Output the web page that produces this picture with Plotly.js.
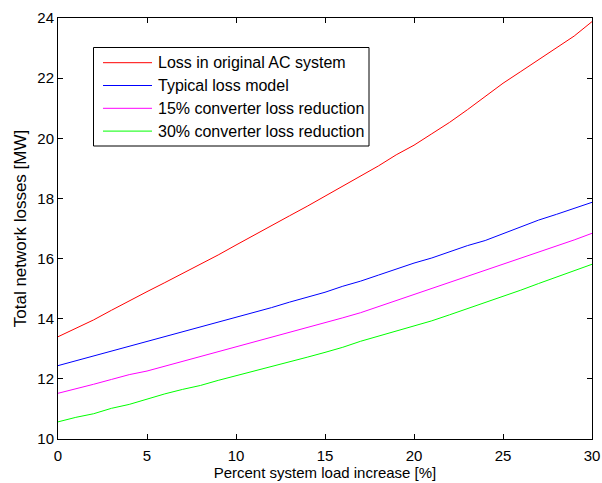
<!DOCTYPE html>
<html>
<head>
<meta charset="utf-8">
<script src="https://cdn.plot.ly/plotly-3.0.1.min.js"></script>
<style>html,body{margin:0;padding:0;background:#fff;}#chart{width:602px;height:483px;}</style>
</head>
<body>
<div id="chart"></div>
<script>
const loadIncrease = [0,1,2,3,4,5,6,7,8,9,10,11,12,13,14,15,16,17,18,19,20,21,22,23,24,25,26,27,28,29,30];
const lossOriginalAC = [13.40,13.68,13.96,14.28,14.60,14.90,15.20,15.50,15.80,16.12,16.45,16.78,17.10,17.42,17.74,18.07,18.40,18.75,19.08,19.45,19.77,20.15,20.53,20.95,21.40,21.83,22.22,22.62,23.00,23.40,23.88];
const typicalLossModel = [12.44,12.60,12.76,12.92,13.08,13.24,13.40,13.56,13.72,13.88,14.04,14.20,14.37,14.55,14.72,14.88,15.08,15.25,15.45,15.65,15.85,16.02,16.22,16.43,16.60,16.83,17.05,17.28,17.47,17.67,17.87];
const reduction15 = [11.52,11.66,11.82,11.98,12.14,12.26,12.42,12.58,12.74,12.90,13.07,13.22,13.38,13.53,13.70,13.87,14.03,14.20,14.40,14.60,14.80,15.00,15.22,15.40,15.60,15.80,16.00,16.20,16.42,16.62,16.84];
const reduction30 = [10.57,10.72,10.84,11.02,11.15,11.33,11.50,11.65,11.78,11.95,12.10,12.25,12.42,12.57,12.72,12.88,13.05,13.25,13.42,13.58,13.75,13.93,14.13,14.33,14.53,14.73,14.95,15.17,15.38,15.60,15.81];
const seriesNames = ["Loss in original AC system","Typical loss model","15% converter loss reduction","30% converter loss reduction"];
const seriesColors = ["#ff0000","#0000ff","#ff00ff","#00ff00"];
const seriesData = [lossOriginalAC, typicalLossModel, reduction15, reduction30];

const FAMILY = 'Liberation Sans, Arial, Helvetica, sans-serif';
const traces = seriesData.map((ys, i) => ({
  x: loadIncrease, y: ys, type: 'scatter', mode: 'lines',
  name: seriesNames[i], showlegend: false,
  line: {color: seriesColors[i], width: 1}
}));

// Plot area in pixels (for converting the MATLAB-style legend box position)
const W = 602, H = 483, ML = 58, MR = 10, MT = 18, MB = 44;
const pw = W - ML - MR, ph = H - MT - MB;
const px2x = p => (p - ML) / pw;
const px2y = p => (H - MB - p) / ph;

const shapes = [{
  type: 'rect', xref: 'paper', yref: 'paper',
  x0: px2x(93.5), x1: px2x(369), y0: px2y(146), y1: px2y(47.5),
  line: {color: '#000', width: 1}, fillcolor: '#fff', layer: 'above'
}];
const annotations = [];
const rowTop = 62.7, rowStep = 22.8;
seriesNames.forEach((name, i) => {
  const yy = px2y(rowTop + i * rowStep);
  shapes.push({type: 'line', xref: 'paper', yref: 'paper',
    x0: px2x(103), x1: px2x(152), y0: yy, y1: yy,
    line: {color: seriesColors[i], width: 1}, layer: 'above'});
  annotations.push({xref: 'paper', yref: 'paper', x: px2x(157), y: yy,
    xanchor: 'left', yanchor: 'middle', text: name, showarrow: false,
    borderpad: 0, font: {family: FAMILY, size: 16, color: '#000'}});
});

const tickFont = {family: FAMILY, size: 15, color: '#000'};
const layout = {
  width: W, height: H,
  margin: {l: ML, r: MR, t: MT, b: MB},
  paper_bgcolor: '#fff', plot_bgcolor: '#fff',
  font: tickFont,
  showlegend: false,
  shapes: shapes,
  annotations: annotations,
  xaxis: {
    range: [0, 30], dtick: 5, tick0: 0,
    ticks: 'inside', ticklen: 5, tickcolor: '#000',
    showline: true, linecolor: '#000', linewidth: 1, mirror: 'ticks',
    showgrid: false, zeroline: false,
    tickfont: tickFont, ticklabelstandoff: 3,
    title: {text: 'Percent system load increase [%]', font: {family: FAMILY, size: 15, color: '#000'}, standoff: 3}
  },
  yaxis: {
    range: [10, 24], dtick: 2, tick0: 10,
    ticks: 'inside', ticklen: 5, tickcolor: '#000',
    showline: true, linecolor: '#000', linewidth: 1, mirror: 'ticks',
    showgrid: false, zeroline: false,
    tickfont: tickFont,
    title: {text: 'Total network losses [MW]', font: {family: FAMILY, size: 17, color: '#000'}, standoff: 6}
  }
};

Plotly.newPlot('chart', traces, layout, {displayModeBar: false, staticPlot: true});
</script>
</body>
</html>
